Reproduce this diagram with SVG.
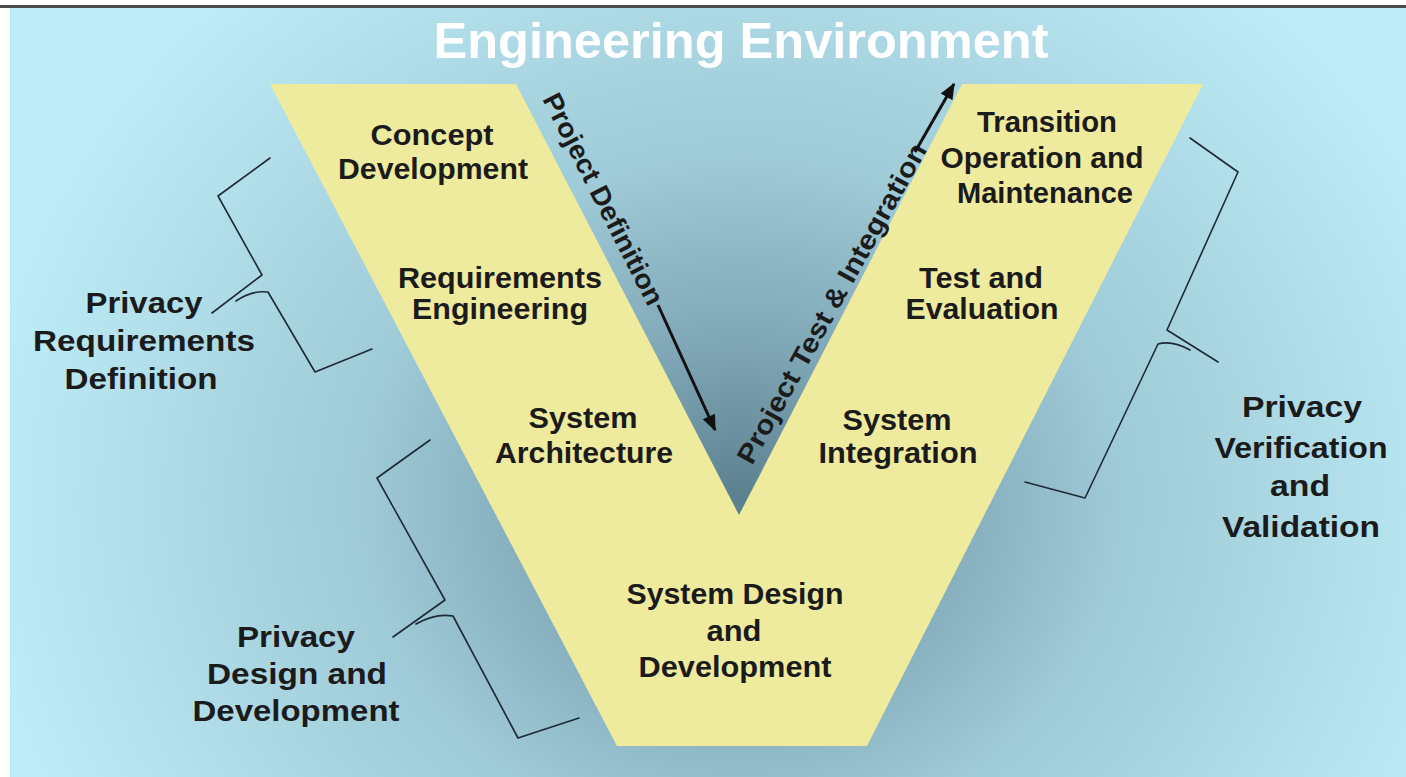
<svg xmlns="http://www.w3.org/2000/svg" width="1406" height="777" viewBox="0 0 1406 777">
<defs>
<radialGradient id="bg" gradientUnits="userSpaceOnUse" cx="740" cy="500" r="760" gradientTransform="translate(740 500) scale(1 0.9) translate(-740 -500)">
<stop offset="0" stop-color="#5c7f8e"/>
<stop offset="0.22" stop-color="#7ea5b4"/>
<stop offset="0.5" stop-color="#9fcad7"/>
<stop offset="1" stop-color="#bdecf6"/>
</radialGradient>
<marker id="ah" viewBox="0 0 12 10" refX="11" refY="5" markerWidth="5.5" markerHeight="4.5" orient="auto" markerUnits="strokeWidth">
<path d="M0,0 L12,5 L0,10 Z" fill="#111"/>
</marker>
<style>
.t{font-family:"Liberation Sans",Arial,sans-serif;font-weight:bold;font-size:29px;fill:#1b1b1b;text-anchor:middle}
.r{font-family:"Liberation Sans",Arial,sans-serif;font-weight:bold;font-size:27px;fill:#1b1b1b}
.br{fill:none;stroke:#1e2a33;stroke-width:1.6;stroke-linejoin:round;stroke-linecap:round}
.ar{fill:none;stroke:#111;stroke-width:3}
</style>
</defs>
<rect x="0" y="0" width="1406" height="777" fill="#ffffff"/>
<rect x="10" y="8" width="1396" height="769" fill="url(#bg)"/>
<rect x="0" y="5" width="1406" height="3" fill="#4a4a4a"/>
<text x="741" y="58" font-family="Liberation Sans, Arial, sans-serif" font-weight="bold" font-size="50" fill="#ffffff" text-anchor="middle" textLength="615" lengthAdjust="spacingAndGlyphs">Engineering Environment</text>
<g id="v-shape">
<path d="M270,84 L516,84 L739,515 L962,84 L1203,84 L867,746 L617,746 Z" fill="#efeb9e"/>
</g>
<g id="concept-development">
<text class="t" x="432" y="145" textLength="123" lengthAdjust="spacingAndGlyphs">Concept</text>
<text class="t" x="433" y="179" textLength="190" lengthAdjust="spacingAndGlyphs">Development</text>
</g>
<g id="requirements-engineering">
<text class="t" x="500" y="288" textLength="204" lengthAdjust="spacingAndGlyphs">Requirements</text>
<text class="t" x="500" y="319" textLength="176" lengthAdjust="spacingAndGlyphs">Engineering</text>
</g>
<g id="system-architecture">
<text class="t" x="583" y="428" textLength="109" lengthAdjust="spacingAndGlyphs">System</text>
<text class="t" x="584" y="463" textLength="178" lengthAdjust="spacingAndGlyphs">Architecture</text>
</g>
<g id="system-design-development">
<text class="t" x="735" y="604" textLength="217" lengthAdjust="spacingAndGlyphs">System Design</text>
<text class="t" x="734" y="641" textLength="55" lengthAdjust="spacingAndGlyphs">and</text>
<text class="t" x="735" y="677" textLength="193" lengthAdjust="spacingAndGlyphs">Development</text>
</g>
<g id="system-integration">
<text class="t" x="897" y="430" textLength="109" lengthAdjust="spacingAndGlyphs">System</text>
<text class="t" x="898" y="463" textLength="159" lengthAdjust="spacingAndGlyphs">Integration</text>
</g>
<g id="test-evaluation">
<text class="t" x="981" y="288" textLength="124" lengthAdjust="spacingAndGlyphs">Test and</text>
<text class="t" x="982" y="319" textLength="153" lengthAdjust="spacingAndGlyphs">Evaluation</text>
</g>
<g id="transition-operation-maintenance">
<text class="t" x="1047" y="132" textLength="140" lengthAdjust="spacingAndGlyphs">Transition</text>
<text class="t" x="1042" y="168" textLength="203" lengthAdjust="spacingAndGlyphs">Operation and</text>
<text class="t" x="1045" y="203" textLength="176" lengthAdjust="spacingAndGlyphs">Maintenance</text>
</g>
<g id="project-definition">
<text class="r" transform="translate(542,99) rotate(63)" textLength="234" lengthAdjust="spacingAndGlyphs">Project Definition</text>
</g>
<g id="project-test-integration">
<text class="r" transform="translate(752,466) rotate(-61)" textLength="362" lengthAdjust="spacingAndGlyphs">Project Test &amp; Integration</text>
</g>
<g id="privacy-requirements-definition">
<text class="t" x="144" y="313" textLength="117" lengthAdjust="spacingAndGlyphs">Privacy</text>
<text class="t" x="144" y="351" textLength="222" lengthAdjust="spacingAndGlyphs">Requirements</text>
<text class="t" x="141" y="389" textLength="153" lengthAdjust="spacingAndGlyphs">Definition</text>
</g>
<g id="privacy-design-development">
<text class="t" x="296" y="647" textLength="118" lengthAdjust="spacingAndGlyphs">Privacy</text>
<text class="t" x="297" y="684" textLength="180" lengthAdjust="spacingAndGlyphs">Design and</text>
<text class="t" x="296" y="721" textLength="207" lengthAdjust="spacingAndGlyphs">Development</text>
</g>
<g id="privacy-verification-validation">
<text class="t" x="1302" y="417" textLength="120" lengthAdjust="spacingAndGlyphs">Privacy</text>
<text class="t" x="1301" y="458" textLength="173" lengthAdjust="spacingAndGlyphs">Verification</text>
<text class="t" x="1300" y="496" textLength="60" lengthAdjust="spacingAndGlyphs">and</text>
<text class="t" x="1301" y="537" textLength="158" lengthAdjust="spacingAndGlyphs">Validation</text>
</g>
<g id="connectors">
<path class="ar" d="M658,305 L715,430" marker-end="url(#ah)"/>
<path class="ar" d="M915,152 L954,84" marker-end="url(#ah)"/>
<path class="br" d="M270,158 L218,196 L262,275 L212,313 M236,301 Q252,290 268,292 L315,372 L372,349"/>
<path class="br" d="M430,440 L377,478 L445,600 L393,637 M416,624 Q435,613 453,616 L518,738 L579,718"/>
<path class="br" d="M1190,138 L1238,172 L1167,330 L1218,362 M1190,350 Q1172,340 1158,344 L1085,498 L1025,482"/>
</g>
</svg>
